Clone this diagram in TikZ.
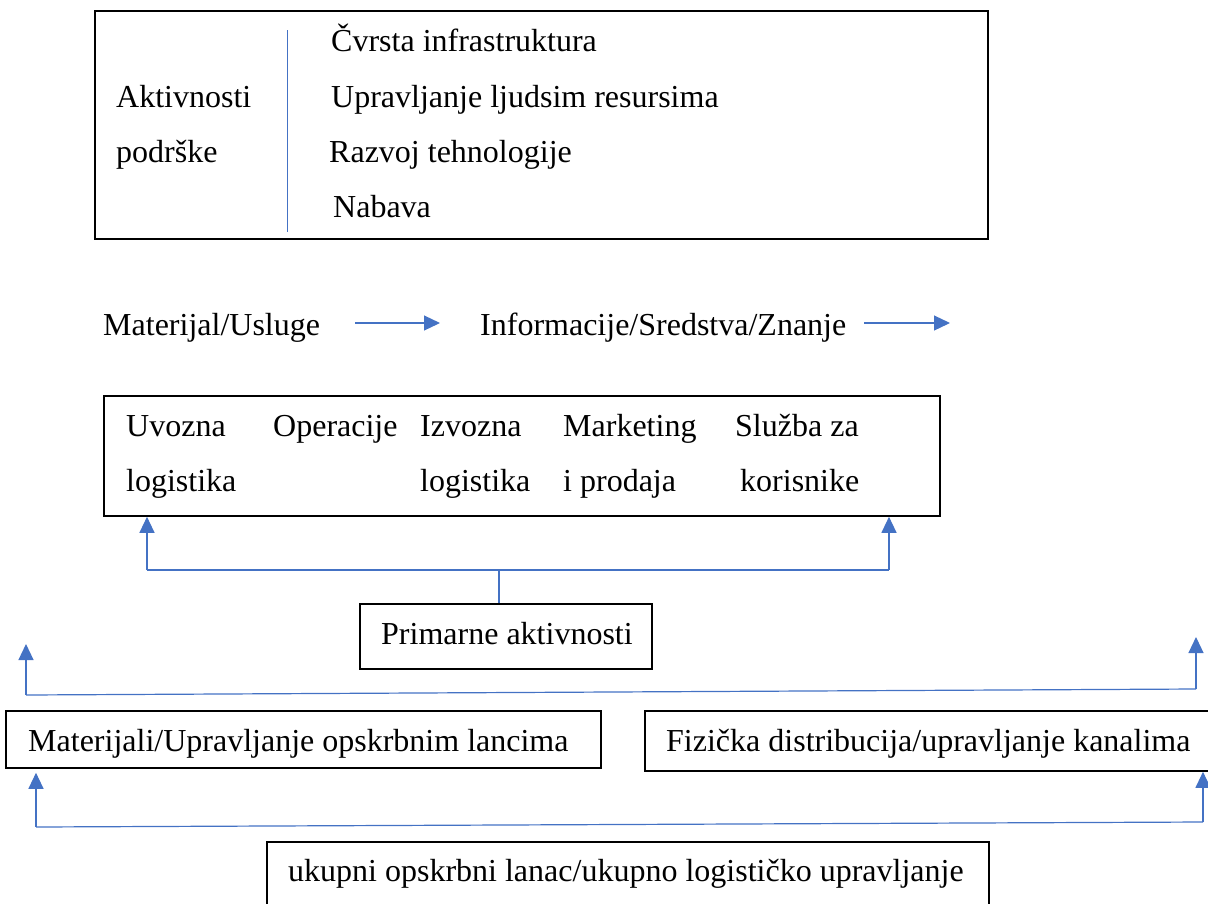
\documentclass[tikz,border=0pt]{standalone}
\usepackage{fontspec}
\setmainfont{Liberation Serif}
\newfontfamily\lgserif{Liberation Serif}
\usetikzlibrary{arrows.meta}
\definecolor{lgblue}{RGB}{68,114,196}
\newcommand{\lgfont}{\lgserif\fontsize{32}{38}\selectfont}
\newcommand{\lgtext}[3] {\node at (#1) (#2) [txt] {#3};}
\newcommand{\lgframe}[4] {\node at (#1) (#2) [frame, minimum width=#3, minimum height=#4] {};}
\newcommand{\lgup}[2] {\draw [arr] (#1) -- (#2);}
\tikzset{
  txt/.style={anchor=base west, inner sep=0pt, font=\lgfont},
  frame/.style={draw, line width=1.6pt, inner sep=0pt},
  link/.style={draw=lgblue, line width=1.2pt},
  arr/.style={link, -{Triangle[length=16pt,width=15pt]}, lgblue}
}

\begin{document}
\begin{tikzpicture}[x=1pt, y=-1pt]
\useasboundingbox (0,0) rectangle (1208,903);
\clip (0,0) rectangle (1208,903);

\lgframe {541.5,125}{support}{893pt}{228pt};
\draw [link, line width=0.9pt] (287,30) -- (287,232);
\lgtext {116,107}{Aktivnosti}{Aktivnosti};
\lgtext {116,162}{podrske}{podrške};
\lgtext {331,51}{infra}{Čvrsta infrastruktura};
\lgtext {331,107}{ljudi}{Upravljanje ljudsim resursima};
\lgtext {329,162}{tehno}{Razvoj tehnologije};
\lgtext {333,217}{nabava}{Nabava};

\lgtext {103,335}{materijal}{Materijal/Usluge};
\lgtext {480,335}{informacije}{Informacije/Sredstva/Znanje};
\coordinate (m1) at (355,323);
\coordinate (m2) at (440,323);
\coordinate (i1) at (864,323);
\coordinate (i2) at (950,323);
\draw [arr] (m1) -- (m2);
\draw [arr] (i1) -- (i2);

\lgframe {522,456}{primbox}{836pt}{120pt};
\lgtext {126,436}{uvozna}{Uvozna};
\lgtext {126,491}{ulog}{logistika};
\lgtext {273,436}{operacije}{Operacije};
\lgtext {420,436}{izvozna}{Izvozna};
\lgtext {420,491}{ilog}{logistika};
\lgtext {563,436}{marketing}{Marketing};
\lgtext {563,491}{prodaja}{i prodaja};
\lgtext {735,436}{sluzba}{Služba za};
\lgtext {740,491}{korisnike}{korisnike};

\lgframe {506,636.5}{primarne}{292pt}{65pt};
\lgtext {381,644}{primtext}{Primarne aktivnosti};
\coordinate (pl) at (147,570);
\coordinate (pr) at (889,570);
\coordinate (pm) at (499,570);
\draw [link] (pl) -- (pr);
\draw [link] (pm) -- (pm |- primarne.north);
\lgup {pl}{pl |- primbox.south};
\lgup {pr}{pr |- primbox.south};

\coordinate (ll) at (26,695);
\coordinate (lr) at (1196,689);
\coordinate (lltip) at (26,644);
\coordinate (lrtip) at (1196,637);
\draw [link] (ll) -- (lr);
\lgup {ll}{lltip};
\lgup {lr}{lrtip};

\lgframe {303.5,739.5}{matbox}{595pt}{57pt};
\lgtext {28,751}{mattext}{Materijali/Upravljanje opskrbnim lancima};
\lgframe {935,741}{fizbox}{580pt}{60pt};
\lgtext {666,751}{fiztext}{Fizička distribucija/upravljanje kanalima};

\coordinate (bl) at (36,827);
\coordinate (br) at (1203,822);
\draw [link] (bl) -- (br);
\draw [arr, shorten >=4pt] (bl) -- (bl |- matbox.south);
\lgup {br}{br |- fizbox.south};

\lgframe {628,880}{ukupbox}{722pt}{76pt};
\lgtext {288,881}{ukuptext}{ukupni opskrbni lanac/ukupno logističko upravljanje};

\end{tikzpicture}
\end{document}
